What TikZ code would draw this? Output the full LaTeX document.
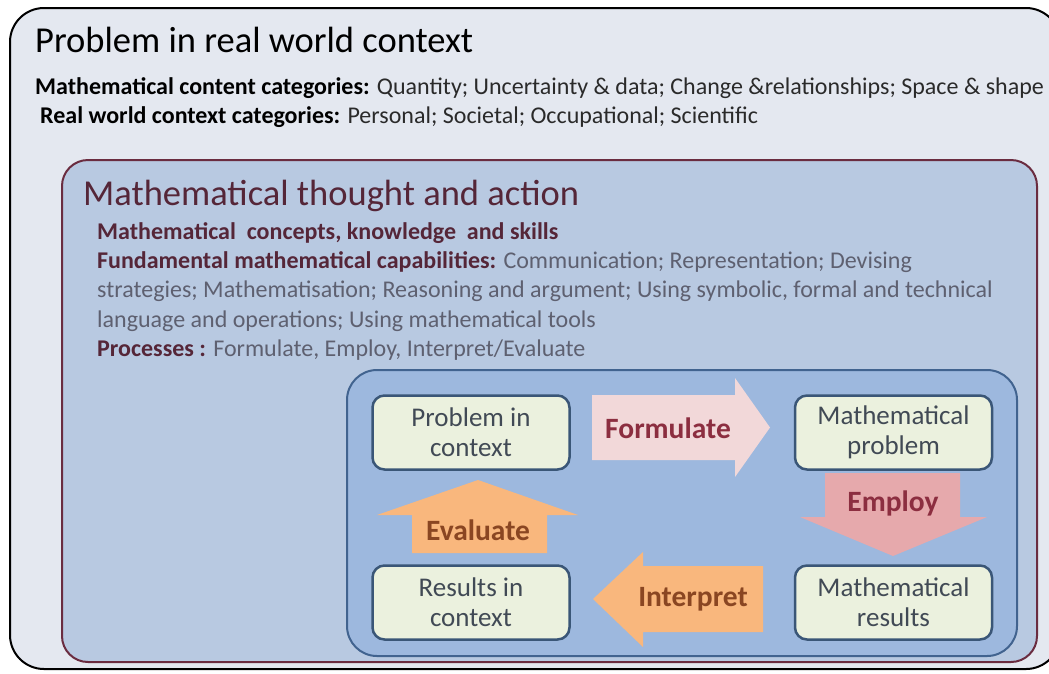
\documentclass[tikz,border=0pt]{standalone}
\usepackage{fontspec}
\setmainfont{Carlito}
\definecolor{outerfill}{HTML}{E4E8F0}
\definecolor{midfill}{HTML}{B8C9E1}
\definecolor{midborder}{HTML}{6A2C40}
\definecolor{innerfill}{HTML}{9DB8DE}
\definecolor{innerborder}{HTML}{41638F}
\definecolor{nodefill}{HTML}{EBF1DE}
\definecolor{nodeborder}{HTML}{3A5677}
\definecolor{nodetext}{HTML}{414A55}
\definecolor{formfill}{HTML}{F2D8D9}
\definecolor{empfill}{HTML}{E6A9AC}
\definecolor{orfill}{HTML}{F9B77D}
\definecolor{maroontext}{HTML}{8C2E40}
\definecolor{browntext}{HTML}{8A4622}
\definecolor{headmaroon}{HTML}{552638}
\definecolor{graytext}{HTML}{5E6070}
\definecolor{darktext}{HTML}{2A2A2A}
\begin{document}
\begin{tikzpicture}[x=1pt,y=-1pt,
  outerbox/.style={draw=black, line width=2pt, fill=outerfill, rounded corners=34pt},
  midbox/.style={draw=midborder, line width=2pt, fill=midfill, rounded corners=26pt},
  innerbox/.style={draw=innerborder, line width=2pt, fill=innerfill, rounded corners=30pt},
  procbox/.style={draw=nodeborder, line width=2.5pt, fill=nodefill, rounded corners=12pt,
    minimum width=197pt, minimum height=74pt, inner sep=0pt, align=center,
    text=nodetext, font=\fontsize{27}{30}\selectfont},
  blockarrow/.style={draw=none},
  arrowlabel/.style={font=\bfseries\fontsize{29.5}{32}\selectfont, inner sep=0pt},
  txt/.style={anchor=base west, inner sep=0pt},
  bigtitle/.style={txt, font=\fontsize{36.5}{40}\selectfont},
  bodytxt/.style={txt, font=\fontsize{24}{29}\selectfont}
]
\useasboundingbox (0,0) rectangle (1049,673);
\clip (0,0) rectangle (1049,673);

% outer frame
\path[outerbox] (10,8) rectangle (1060,669);
\node[bigtitle, text=black] (t1) at (35,52) {Problem in real world context};
\node[bodytxt, text=darktext] (l1) at (35,94) {\textbf{\color{black}Mathematical content categories:} Quantity; Uncertainty \& data; Change \&relationships; Space \& shape};
\node[bodytxt, text=darktext] (l2) at (40,123) {\textbf{\color{black}Real world context categories:} Personal; Societal; Occupational; Scientific};

% middle frame
\path[midbox] (62,160) rectangle (1037,662);
\node[bigtitle, text=headmaroon] (t2) at (83,205) {Mathematical thought and action};
\node[bodytxt, text=headmaroon] (m1) at (97,239) {\textbf{Mathematical\ \ concepts, knowledge\ \ and skills}};
\node[bodytxt, text=graytext] (m2) at (97,268) {\textbf{\color{headmaroon}Fundamental mathematical capabilities:} Communication; Representation; Devising};
\node[bodytxt, text=graytext] (m3) at (97,297.5) {strategies; Mathematisation; Reasoning and argument; Using symbolic, formal and technical};
\node[bodytxt, text=graytext] (m4) at (97,327) {language and operations; Using mathematical tools};
\node[bodytxt, text=graytext] (m5) at (97,356) {\textbf{\color{headmaroon}Processes :} Formulate, Employ, Interpret/Evaluate};

% inner frame
\path[innerbox] (347,370) rectangle (1017,656);

% block arrows
\fill[formfill] (592,395) -- (735,395) -- (735,378) -- (770,427.5) -- (735,477) -- (735,460) -- (592,460) -- cycle;
\fill[empfill] (825,473) -- (960,473) -- (960,517) -- (987,517) -- (893,556) -- (800,517) -- (825,517) -- cycle;
\fill[orfill] (763,566) -- (643,566) -- (643,552) -- (593,599) -- (643,647) -- (643,632) -- (763,632) -- cycle;
\fill[orfill] (412,553) -- (412,515) -- (377,515) -- (478,480) -- (578,515) -- (547,515) -- (547,553) -- cycle;

\node[arrowlabel, text=maroontext] (lf) at (668,428) {Formulate};
\node[arrowlabel, text=maroontext] (le) at (893,503) {Employ};
\node[arrowlabel, text=browntext] (li) at (693,599) {Interpret};
\node[arrowlabel, text=browntext] (lv) at (478,530) {Evaluate};

% process boxes
\node[procbox] (pic) at (471,432.5) {Problem in\\context};
\node[procbox] (mp) at (893.5,432.5) {Mathematical\\problem};
\node[procbox] (rc) at (471,602.5) {Results in\\context};
\node[procbox] (mr) at (893.5,602.5) {Mathematical\\results};
\end{tikzpicture}
\end{document}
